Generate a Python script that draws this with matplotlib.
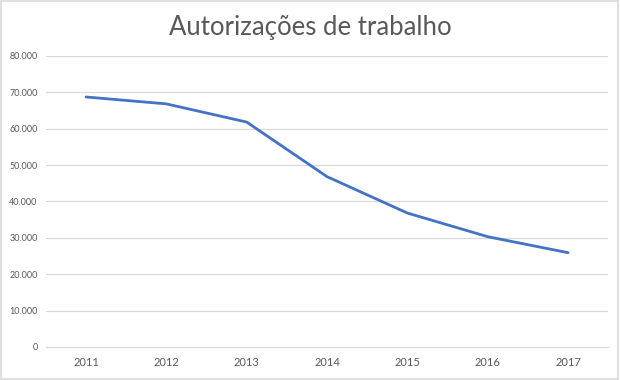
import matplotlib
matplotlib.use("Agg")
import matplotlib.pyplot as plt
from matplotlib.ticker import FuncFormatter, MultipleLocator
from matplotlib.patches import Rectangle

anos = ["2011", "2012", "2013", "2014", "2015", "2016", "2017"]
autorizacoes = [68700, 66800, 61800, 46800, 36800, 30300, 25900]

plt.rcParams['font.family'] = ['Lato', 'DejaVu Sans']

fig = plt.figure(figsize=(6.2, 3.8), dpi=100)
ax = fig.add_axes([0.074, 0.087, 0.907, 0.766])

x = list(range(len(anos)))
ax.plot(x, autorizacoes, color='#4472C4', lw=2.0, solid_capstyle='round')

ax.set_xlim(-0.5, len(anos) - 0.5)
ax.set_ylim(0, 80000)
ax.yaxis.set_major_locator(MultipleLocator(10000))
ax.yaxis.set_major_formatter(FuncFormatter(lambda v, p: f"{int(v):,}".replace(",", ".")))
ax.set_xticks(x)
ax.set_xticklabels(anos)

ax.grid(axis='y', color='#d9d9d9', lw=0.9)
ax.set_axisbelow(True)
for s in ['top', 'right', 'left']:
    ax.spines[s].set_visible(False)
ax.spines['bottom'].set_color('#d9d9d9')
ax.tick_params(axis='both', length=0, colors='#595959')
ax.tick_params(axis='y', labelsize=6.5, pad=6)
ax.tick_params(axis='x', labelsize=8, pad=7)

fig.text(0.5, 0.928, "Autorizações de trabalho", ha='center', va='center',
         fontsize=18.5, color='#595959', fontweight='normal')

fig.patches.append(Rectangle((0.002, 0.003), 0.995, 0.994, transform=fig.transFigure,
                             fill=False, edgecolor='#d9d9d9', lw=1.2))

fig.savefig("out.png", dpi=100)
